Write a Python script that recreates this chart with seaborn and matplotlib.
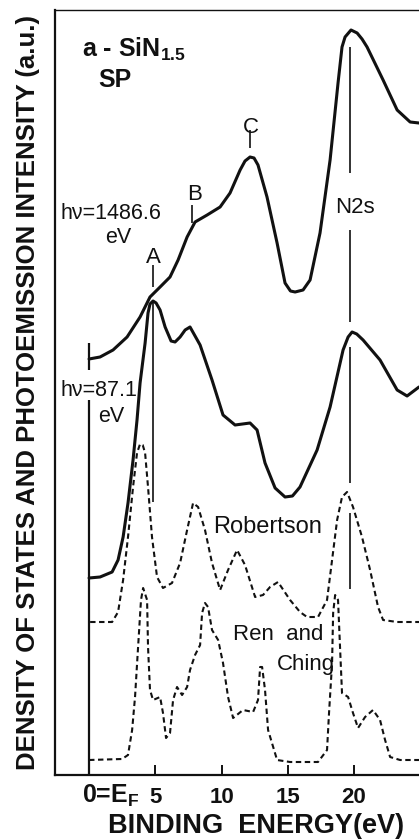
import matplotlib
matplotlib.use("Agg")
import matplotlib.pyplot as plt
import seaborn as sns
import pandas as pd

# ---------------- data (binding energy in eV, intensity in arbitrary units) ----------------
xps_energy = [0.0, 0.83, 1.81, 2.87, 3.85, 4.60, 5.36, 6.11, 6.72, 7.40, 8.0, 8.91, 9.89,
              10.64, 11.40, 11.77, 12.15, 12.45, 12.75, 13.43, 14.19, 14.79, 15.20, 15.55,
              16.15, 16.68, 17.43, 18.19, 18.79, 19.09, 19.32, 19.77, 20.23, 20.60, 20.98,
              22.19, 23.25, 24.23, 24.9]
xps_intensity = [416, 418, 425, 438, 458, 478, 488, 498, 515, 538, 553, 560, 568, 582, 605,
                 614, 618, 617, 610, 578, 532, 492, 484, 483, 485, 495, 542, 615, 692, 728,
                 738, 745, 742, 736, 728, 695, 665, 653, 652]

ups_energy = [0.0, 0.83, 1.74, 2.19, 2.57, 2.94, 3.32, 3.62, 3.85, 4.23, 4.45, 4.60, 4.83,
              5.06, 5.36, 5.74, 6.19, 6.49, 6.87, 7.25, 7.62, 8.38, 9.28, 10.11, 11.02,
              12.15, 12.68, 13.28, 14.04, 14.79, 15.35, 15.92, 17.21, 18.19, 19.17, 19.55,
              19.85, 20.20, 20.68, 21.96, 23.25, 24.0, 24.9]
ups_intensity = [197, 198, 203, 215, 238, 272, 315, 355, 392, 432, 462, 471, 474, 472, 465,
                 448, 434, 433, 438, 445, 448, 430, 395, 360, 350, 352, 345, 312, 287, 278,
                 279, 288, 325, 368, 425, 438, 443, 441, 435, 415, 385, 379, 388]

robertson_energy = [0.08, 1.74, 2.19, 2.57, 2.94, 3.32, 3.62, 3.85, 4.05, 4.23, 4.45, 4.75,
                    5.13, 5.58, 6.26, 6.87, 7.40, 7.85, 8.23, 8.75, 9.28, 9.89, 10.49, 11.17,
                    11.77, 12.53, 13.13, 13.66, 14.26, 15.17, 15.92, 16.45, 17.28, 17.96,
                    18.34, 18.72, 19.09, 19.47, 19.92, 20.60, 21.21, 21.81, 22.19, 23.25, 24.9]
robertson_dos = [153, 153, 163, 195, 238, 288, 322, 331, 330, 322, 288, 238, 198, 187, 192,
                 212, 245, 272, 268, 245, 212, 185, 205, 225, 210, 178, 180, 188, 193, 175,
                 163, 158, 158, 175, 215, 255, 278, 283, 268, 238, 205, 168, 155, 153, 153]

renching_energy = [0.0, 2.49, 2.94, 3.25, 3.47, 3.70, 3.92, 4.08, 4.38, 4.45, 4.60, 4.83,
                   5.36, 5.58, 5.81, 6.11, 6.34, 6.64, 7.02, 7.40, 7.62, 8.0, 8.38, 8.53,
                   8.75, 8.98, 9.28, 9.74, 10.11, 10.49, 10.87, 11.62, 12.38, 12.75, 12.91,
                   13.06, 13.28, 13.51, 14.19, 15.17, 17.28, 17.96, 18.11, 18.34, 18.42,
                   18.57, 18.79, 18.94, 19.09, 19.55, 19.92, 20.30, 20.83, 21.43, 21.96,
                   22.34, 22.72, 23.47, 24.9]
renching_dos = [15, 16, 20, 45, 78, 128, 175, 187, 175, 128, 85, 75, 78, 62, 37, 42, 75, 88,
                80, 88, 105, 120, 130, 162, 172, 168, 145, 135, 112, 78, 57, 65, 63, 75, 108,
                108, 85, 45, 15, 13, 13, 25, 62, 112, 162, 180, 175, 128, 82, 78, 62, 47, 58,
                65, 55, 35, 18, 15, 15]

tick_values = [5, 10, 15, 20]
tick_labels = ["5", "10", "15", "20"]

# peak markers: (energy, [(y_start, y_end), ...])
marker_lines = [
    (0.0, [(0, 375)]),                                          # Fermi level
    (0.0, [(405, 432)]),                                        # start of XPS curve
    (4.79, [(488, 510), (273, 472)]),                           # A
    (7.75, [(552, 570)]),                                       # B
    (12.15, [(627, 645)]),                                      # C
    (19.7, [(602, 728), (453, 545), (292, 428), (186, 262)]),   # N2s
]

# ---------------- style ----------------
sns.set_style("white")
plt.rcParams["font.family"] = ["Liberation Sans", "DejaVu Sans"]
plt.rcParams["mathtext.fontset"] = "custom"
plt.rcParams["mathtext.rm"] = "Liberation Sans"
plt.rcParams["mathtext.bf"] = "Liberation Sans:bold"

W, H = 419, 840
fig = plt.figure(figsize=(W / 100, H / 100), dpi=100)
fig.patch.set_facecolor("white")
ax = fig.add_axes([55 / W, (H - 775) / H, 1 - 55 / W, (775 - 9.5) / H])
ax.set_facecolor("white")

ink = "#111111"
solid_lw = 2.2
dash_style = (0, (2.6, 1.7))

curves = [
    (xps_energy, xps_intensity, "-", solid_lw),
    (ups_energy, ups_intensity, "-", solid_lw),
    (robertson_energy, robertson_dos, dash_style, 1.5),
    (renching_energy, renching_dos, dash_style, 1.5),
]
for xs, ys, ls, lw in curves:
    df = pd.DataFrame({"energy": xs, "intensity": ys})
    sns.lineplot(data=df, x="energy", y="intensity", ax=ax, color=ink, lw=lw,
                 linestyle=ls, sort=False, estimator=None,
                 solid_joinstyle="round", solid_capstyle="round")

for xpos, segs in marker_lines:
    for y0, y1 in segs:
        lw = 1.6 if xpos == 0.0 else 1.2
        ax.vlines(xpos, y0, y1, color=ink, lw=lw)

ax.set_xlim(-2.57, 24.9)
ax.set_ylim(0, 765.5)

for side in ["left", "bottom"]:
    ax.spines[side].set_linewidth(1.6)
    ax.spines[side].set_color(ink)
ax.spines["top"].set_linewidth(1.0)
ax.spines["top"].set_color(ink)
ax.spines["right"].set_visible(False)

ax.set_yticks([])
ax.set_xticks(tick_values)
ax.set_xticklabels(tick_labels)
ax.tick_params(axis="x", direction="in", length=7, width=1.4, pad=8.5,
               labelsize=16, colors=ink, bottom=True)
for lbl in ax.get_xticklabels():
    lbl.set_fontweight("bold")

ax.text(-0.53, -28, r"0=E$_{\mathbf{F}}$", fontsize=18, fontweight="bold",
        ha="left", va="baseline", color=ink, clip_on=False)

ax.set_xlabel("BINDING  ENERGY(eV)", fontsize=19.5, fontweight="bold", va="center", color=ink)
ax.xaxis.set_label_coords(0.552, -0.0662)
ax.set_ylabel("DENSITY OF STATES AND PHOTOEMISSION INTENSITY (a.u.)", fontsize=18.5,
              fontweight="bold", va="center", color=ink)
ax.yaxis.set_label_coords(-0.074, 0.5)

annotations = [
    (r"a - SiN$_{\mathbf{1.5}}$", -0.53, 718, 18, "bold", "left"),
    ("SP", 0.68, 688, 18, "bold", "left"),
    ("hν=1486.6", -2.19, 556, 15.5, "normal", "left"),
    ("eV", 2.19, 532, 15.5, "normal", "center"),
    ("hν=87.1", -2.19, 379, 15.5, "normal", "left"),
    ("eV", 1.71, 353, 15.5, "normal", "center"),
    ("A", 4.83, 512, 16, "normal", "center"),
    ("B", 7.96, 575, 16, "normal", "center"),
    ("C", 12.2, 642, 16, "normal", "center"),
    ("N2s", 18.57, 562, 16, "normal", "left"),
    ("Robertson", 9.36, 242, 17, "normal", "left"),
    ("Ren  and", 10.87, 135, 16, "normal", "left"),
    ("Ching", 14.19, 105, 16, "normal", "left"),
]
for s, x, y, fs, fw, ha in annotations:
    ax.text(x, y, s, fontsize=fs, fontweight=fw, ha=ha, va="baseline", color=ink)

fig.savefig("out.png", dpi=100, facecolor="white")
